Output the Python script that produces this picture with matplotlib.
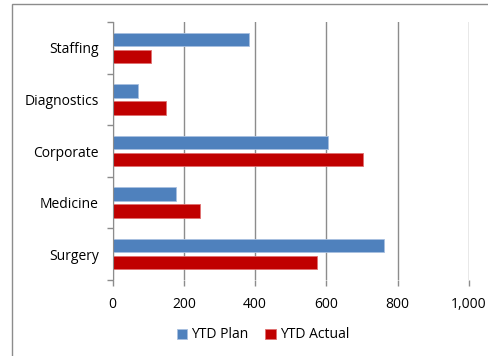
import matplotlib
matplotlib.use("Agg")
import matplotlib.pyplot as plt
import numpy as np

categories = ["Staffing", "Diagnostics", "Corporate", "Medicine", "Surgery"]
ytd_plan = [382, 71, 605, 179, 763]
ytd_actual = [108, 149, 704, 245, 573]
xticks = [0, 200, 400, 600, 800, 1000]
xticklabels = ["0", "200", "400", "600", "800", "1,000"]

plt.rcParams['font.family'] = ['Open Sans', 'DejaVu Sans']

fig = plt.figure(figsize=(4.88, 3.56), dpi=100)
ax = fig.add_axes([0.231, 0.2135, 0.7295, 0.7245])

# outer chart frame
fig.patches.append(plt.Rectangle((12/488, -0.1), 1.2, 1 - 4/356 + 0.1, transform=fig.transFigure,
                                 fill=False, edgecolor='#8c8c8c', linewidth=1.0))

y = np.arange(len(categories))
h = 0.258
ax.barh(y - 0.165, ytd_plan, height=h, color='#4F81BD', edgecolor='#a8c0e0', linewidth=0.6,
        label='YTD Plan', zorder=3)
ax.barh(y + 0.165, ytd_actual, height=h, color='#C00000', edgecolor='#e07070', linewidth=0.6,
        label='YTD Actual', zorder=3)

ax.set_ylim(len(categories) - 0.5, -0.5)
ax.set_xlim(0, 1000)
ax.set_xticks(xticks)
ax.set_xticklabels(xticklabels)
ax.set_yticks(y)
ax.set_yticklabels(categories)
ax.set_yticks(np.arange(len(categories) + 1) - 0.5, minor=True)
ax.tick_params(axis='y', which='major', length=0, pad=10, labelsize=10)
ax.tick_params(axis='y', which='minor', length=4, color='#8c8c8c', width=1)
ax.tick_params(axis='x', length=4, color='#8c8c8c', width=1, labelsize=10, pad=8)

ax.grid(axis='x', color='#8c8c8c', linewidth=1, zorder=0)
for s in ['top', 'right', 'bottom']:
    ax.spines[s].set_visible(False)
ax.spines['left'].set_color('#8c8c8c')
ax.spines['left'].set_zorder(4)

fig.legend(loc='center', bbox_to_anchor=(263/488, 1 - 335/356), ncol=2, frameon=False,
           fontsize=10, handlelength=0.75, handleheight=0.75, handletextpad=0.3, columnspacing=1.2)

fig.savefig("out.png", dpi=100)
